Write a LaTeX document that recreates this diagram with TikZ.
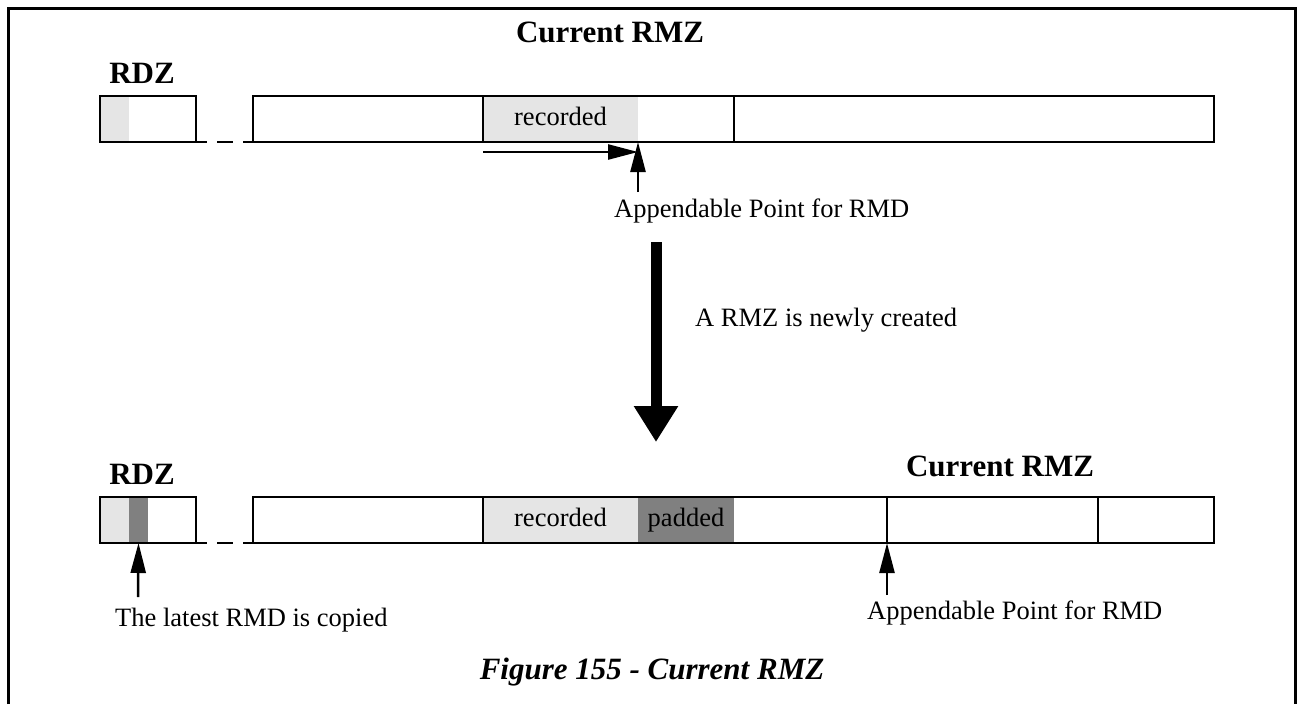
\documentclass[tikz,border=0pt]{standalone}
\usepackage{fontspec}
\setmainfont{Liberation Serif}
\usetikzlibrary{arrows.meta,positioning}

\begin{document}
\begin{tikzpicture}[x=1pt,y=-1pt,
  txt/.style={font=\fontsize{26.5}{30}\selectfont,inner sep=0pt},
  head/.style={font=\fontsize{31}{34}\selectfont\bfseries,inner sep=0pt},
  cell/.style={draw,line width=2.5pt,minimum height=46pt,inner sep=0pt,outer sep=0pt,anchor=north west},
  lite/.style={fill=black!10,minimum height=46pt,inner sep=0pt,outer sep=0pt,anchor=north west,
    text height=18pt,text depth=6pt,font=\fontsize{26.5}{30}\selectfont},
  dark/.style={lite,fill=black!50},
  gap/.style={line width=2.5pt,dash pattern=on 11pt off 10pt on 16pt off 10pt on 10pt},
  ptr/.style={-{Triangle[length=30pt,width=15pt]},line width=2.5pt},
  big/.style={-{Triangle[length=36pt,width=42pt]},line width=11pt}]
\useasboundingbox (0,0) rectangle (1300,704);
\draw[line width=3pt] (8,704) -- (8,8) -- (1295,8) -- (1295,704);
% before
\node[head] (curA) at (610,32) {Current RMZ};
\node[head] (rdzAt) at (142,73) {RDZ};
\node[lite,minimum width=29pt] (rdzAl) at (100,96) {};
\node[lite,minimum width=155pt] (recA) at (483,96) {recorded};
\node[cell,minimum width=96pt] (rdzA) at (100,96) {};
\node[cell,minimum width=230pt] (segA1) at (253,96) {};
\node[cell,minimum width=251pt] (segA2) at (483,96) {};
\node[cell,minimum width=480pt] (segA3) at (734,96) {};
\draw[gap] (rdzA.south east) -- (segA1.south west);
\coordinate (runA) at (483,152);
\draw[ptr] (runA) -- (recA.south east |- runA);
\coordinate (upA) at (638,192);
\draw[ptr] (upA) -- (recA.south east);
\node[txt,anchor=west] (apA) at (614,211) {Appendable Point for RMD};
% new RMZ
\coordinate (dnS) at (656,242);
\coordinate (dnE) at (656,442);
\draw[big] (dnS) -- (dnE);
\node[txt,anchor=west] (newz) at (695,320) {A RMZ is newly created};
% after
\node[head] (rdzBt) at (142,474) {RDZ};
\node[head] (curB) at (1000,466) {Current RMZ};
\node[lite,minimum width=29pt] (rdzBl) at (100,497) {};
\node[dark,minimum width=19pt] (rdzBd) at (129,497) {};
\node[lite,minimum width=155pt] (recB) at (483,497) {recorded};
\node[dark,minimum width=96pt] (padB) at (638,497) {padded};
\node[cell,minimum width=96pt] (rdzB) at (100,497) {};
\node[cell,minimum width=230pt] (segB1) at (253,497) {};
\node[cell,minimum width=404pt] (segB2) at (483,497) {};
\node[cell,minimum width=211pt] (segB3) at (887,497) {};
\node[cell,minimum width=116pt] (segB4) at (1098,497) {};
\draw[gap] (rdzB.south east) -- (segB1.south west);
\coordinate (upB1) at (138,597);
\draw[ptr] (upB1) -- (rdzBd.south);
\coordinate (upB2) at (887,595);
\draw[ptr] (upB2) -- (segB3.south west);
\node[txt,anchor=west] (cpB) at (115,620) {The latest RMD is copied};
\node[txt,anchor=west] (apB) at (867,613) {Appendable Point for RMD};
\node[head,font=\fontsize{31}{34}\selectfont\bfseries\itshape] (cap) at (652,672) {Figure 155 - Current RMZ};
\end{tikzpicture}
\end{document}
